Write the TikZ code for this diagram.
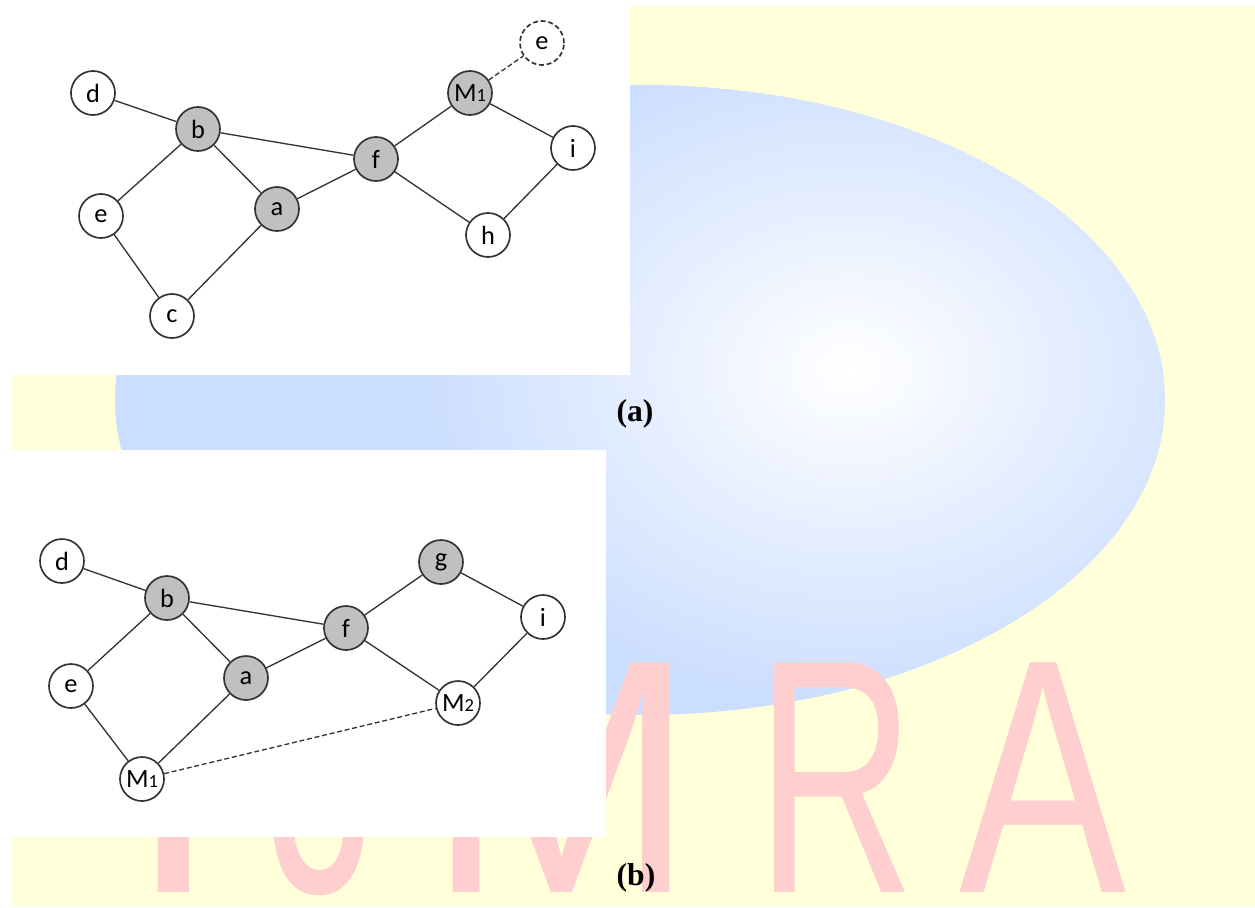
\documentclass[tikz,border=0pt]{standalone}
\usepackage{fontspec}
\setmainfont{Liberation Serif}
\newfontfamily\nodefont{Carlito}
\newfontfamily\markfont{Liberation Sans}
\definecolor{wmyellow}{RGB}{255,255,218}
\definecolor{wmblue}{RGB}{204,222,255}
\definecolor{wmpink}{RGB}{255,206,206}
\definecolor{nodegray}{RGB}{192,192,192}
\definecolor{linegray}{RGB}{50,50,50}
\newcommand{\msub}[1]{M{\fontsize{10.5}{10.5}\selectfont #1}}

\begin{document}
\begin{tikzpicture}[x=0.2mm,y=0.2mm]
\tikzstyle{every node}+=[inner sep=0pt]
\tikzstyle{vtx}=[draw=linegray, line width=0.95pt, circle, minimum size=8.8mm, fill=white, font=\nodefont\fontsize{15}{17}\selectfont]
\tikzstyle{vtxgray}=[vtx, fill=nodegray]
\tikzstyle{vtxghost}=[vtx, dash pattern=on 2.8pt off 1.6pt]
\tikzstyle{wire}=[linegray, line width=0.75pt]
\tikzstyle{wiredash}=[wire, dash pattern=on 2.8pt off 1.6pt]
\tikzstyle{wmletter}=[text=wmpink, font=\markfont\fontsize{190}{190}\selectfont, anchor=base]
\tikzstyle{caption}=[font=\bfseries\fontsize{18}{20}\selectfont]
\useasboundingbox (0,0) rectangle (1255,-907);
\fill[wmyellow] (12,-6) rectangle (1255,-906);
\begin{scope}
\clip (640,-400) ellipse [x radius=525, y radius=315];
\fill[wmblue] (115,-85) rectangle (1165,-715);
\shade[inner color=white, outer color=wmblue] (850,-370) ellipse [x radius=420, y radius=330];
\end{scope}
\node[wmletter] (wmi) at (174,-892) {I};
\node[wmletter, xscale=0.66] (wmj) at (326,-892) {J};
\node[wmletter, xscale=0.97] (wmm) at (561,-892) {M};
\node[wmletter, xscale=0.66] (wmr) at (836,-892) {R};
\node[wmletter, xscale=0.75] (wma) at (1043,-892) {A};
\fill[white] (0,0) rectangle (630,-375);
\fill[white] (0,-450) rectangle (606,-837);

\node[vtx] (d1) at (93,-93) {d};
\node[vtxgray] (b1) at (198,-129) {b};
\node[vtx] (e1) at (101,-216) {e};
\node[vtxgray] (a1) at (277,-209) {a};
\node[vtx] (c1) at (172,-316) {c};
\node[vtxgray] (f1) at (376,-159) {f};
\node[vtxgray] (m1) at (470,-93) {\msub{1}};
\node[vtxghost] (x1) at (542,-43) {e};
\node[vtx] (i1) at (573,-148) {i};
\node[vtx] (h1) at (488,-235) {h};
\draw[wire] (d1) -- (b1);
\draw[wire] (b1) -- (e1);
\draw[wire] (b1) -- (a1);
\draw[wire] (b1) -- (f1);
\draw[wire] (e1) -- (c1);
\draw[wire] (c1) -- (a1);
\draw[wire] (a1) -- (f1);
\draw[wire] (f1) -- (m1);
\draw[wire] (f1) -- (h1);
\draw[wire] (m1) -- (i1);
\draw[wire] (i1) -- (h1);
\draw[wiredash] (m1) -- (x1);
\node[caption] (capa) at (635,-414) {(a)};

\node[vtx] (d2) at (62,-561) {d};
\node[vtxgray] (b2) at (167,-598) {b};
\node[vtx] (e2) at (71,-686) {e};
\node[vtxgray] (a2) at (246,-678) {a};
\node[vtx] (m2) at (142,-779) {\msub{1}};
\node[vtxgray] (f2) at (346,-628) {f};
\node[vtxgray] (g2) at (441,-562) {g};
\node[vtx] (i2) at (543,-617) {i};
\node[vtx] (n2) at (458,-703) {\msub{2}};
\draw[wire] (d2) -- (b2);
\draw[wire] (b2) -- (e2);
\draw[wire] (b2) -- (a2);
\draw[wire] (b2) -- (f2);
\draw[wire] (e2) -- (m2);
\draw[wire] (m2) -- (a2);
\draw[wire] (a2) -- (f2);
\draw[wire] (f2) -- (g2);
\draw[wire] (f2) -- (n2);
\draw[wire] (g2) -- (i2);
\draw[wire] (i2) -- (n2);
\draw[wiredash] (m2) -- (n2);
\node[caption] (capb) at (636,-878) {(b)};
\end{tikzpicture}
\end{document}
